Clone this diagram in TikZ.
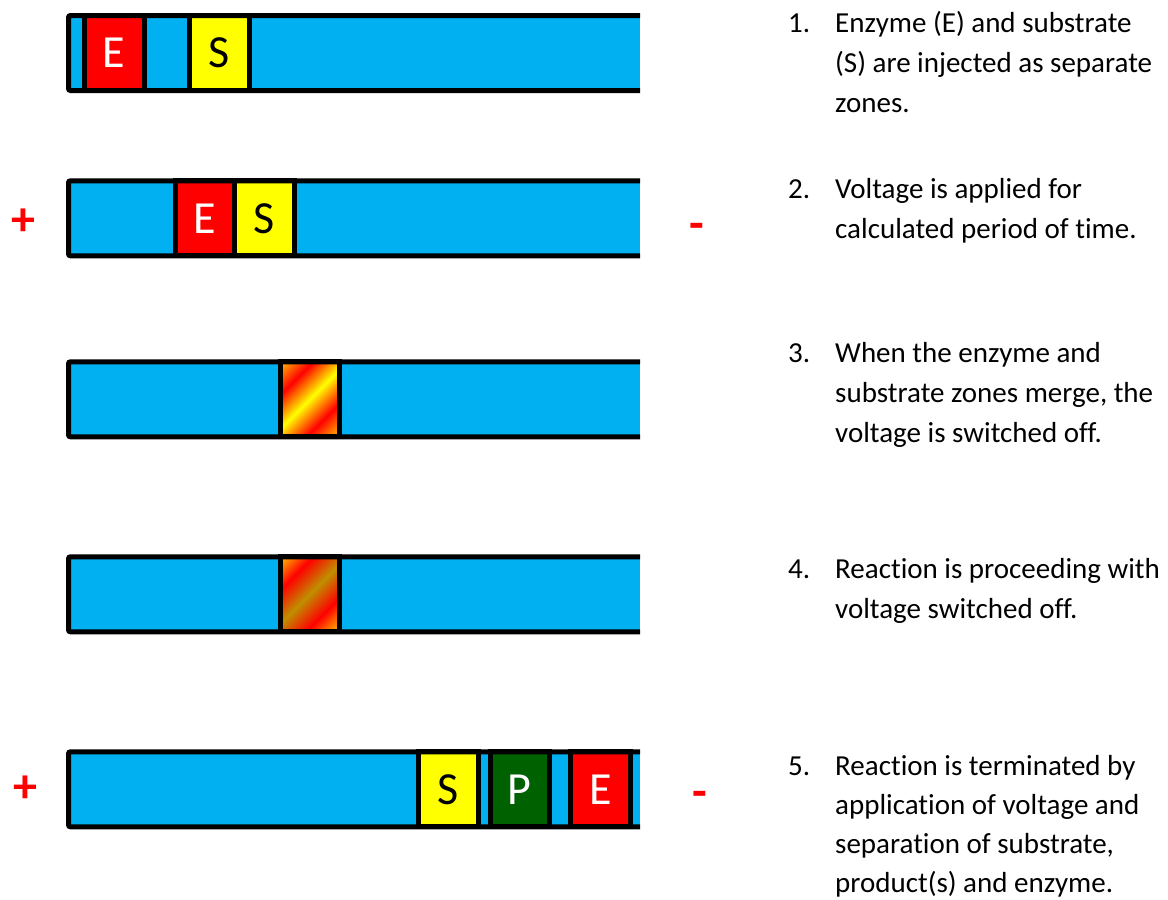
\documentclass[tikz,border=0pt]{standalone}
\usepackage{fontspec}
\setmainfont[Ligatures=NoCommon]{Carlito}
\definecolor{tubeblue}{HTML}{00B0F0}
\definecolor{zred}{HTML}{FF0000}
\definecolor{zyellow}{HTML}{FFFF00}
\definecolor{zgreen}{HTML}{006100}
\definecolor{zorange}{HTML}{FFB400}
\definecolor{zgold}{HTML}{BF8F00}
\definecolor{signred}{HTML}{FF0000}
\pgfdeclarehorizontalshading{mixA}{100bp}{color(0bp)=(zorange); color(16bp)=(zorange); color(32bp)=(zred); color(50bp)=(zyellow); color(68bp)=(zred); color(84bp)=(zorange); color(100bp)=(zorange)}
\pgfdeclarehorizontalshading{mixB}{100bp}{color(0bp)=(zorange); color(16bp)=(zorange); color(32bp)=(zred); color(50bp)=(zgold); color(68bp)=(zred); color(84bp)=(zorange); color(100bp)=(zorange)}
\newcommand\drawtubefill[1]{\fill[tubeblue] (68.5,#1) rectangle (640,#1+75);}
\newcommand\drawtubeline[1]{\draw[tubeline] (640,#1) -- (68.5,#1) -- (68.5,#1+75) -- (640,#1+75);}
\begin{document}
\begin{tikzpicture}[x=1pt,y=-1pt,
  tubeline/.style={draw=black,line width=5pt,rounded corners=2pt},
  zone/.style={draw=black,line width=5pt,inner sep=0pt,minimum height=75pt,font=\fontsize{46}{46}\selectfont},
  sign/.style={text=signred,inner sep=0pt,font=\fontsize{48}{48}\selectfont\bfseries},
  num/.style={anchor=base west,inner sep=0pt,font=\fontsize{29}{40}\selectfont},
  txt/.style={anchor=base west,inner sep=0pt,font=\fontsize{29}{40}\selectfont}]
\useasboundingbox (0,0) rectangle (1168,900);
% tube 1
\drawtubefill{15.5}
\node[zone,fill=zred,text=white,minimum width=60pt] (e1) at (114,53) {E};
\node[zone,fill=zyellow,text=black,minimum width=60pt] (s1) at (219,53) {S};
\drawtubeline{15.5}
% tube 2
\drawtubefill{180.8}
\node[zone,fill=zred,text=white,minimum width=59pt] (e2) at (204.5,218.3) {E};
\node[zone,fill=zyellow,text=black,minimum width=60pt] (s2) at (264,218.3) {S};
\drawtubeline{180.8}
% tube 3
\drawtubefill{361.8}
\node[zone,shade,shading=mixA,shading angle=-45,minimum width=59pt] (m3) at (309.5,399.3) {};
\drawtubeline{361.8}
% tube 4
\drawtubefill{556.8}
\node[zone,shade,shading=mixB,shading angle=-45,minimum width=59pt] (m4) at (309.5,594.3) {};
\drawtubeline{556.8}
% tube 5
\drawtubefill{751.8}
\node[zone,fill=zyellow,text=black,minimum width=60pt] (s5) at (448.5,789.3) {S};
\node[zone,fill=zgreen,text=white,minimum width=59pt] (p5) at (519.5,789.3) {P};
\node[zone,fill=zred,text=white,minimum width=59.3pt] (e5) at (600.35,789.3) {E};
\drawtubeline{751.8}
% signs
\node[sign] (plus2) at (23,222) {+};
\node[sign] (minus2) at (697,231) {-};
\node[sign] (plus5) at (25,789) {+};
\node[sign] (minus5) at (700,799) {-};
% texts
\node[num] (n1) at (788,32) {1.};
\node[txt] (t1a) at (835,32) {Enzyme (E) and substrate};
\node[txt] (t1b) at (835,72) {(S) are injected as separate};
\node[txt] (t1c) at (835,112) {zones.};
\node[num] (n2) at (788,198) {2.};
\node[txt] (t2a) at (835,198) {Voltage is applied for};
\node[txt] (t2b) at (835,238) {calculated period of time.};
\node[num] (n3) at (788,362) {3.};
\node[txt] (t3a) at (835,362) {When the enzyme and};
\node[txt] (t3b) at (835,402) {substrate zones merge, the};
\node[txt] (t3c) at (835,442) {voltage is switched off.};
\node[num] (n4) at (788,578) {4.};
\node[txt] (t4a) at (835,578) {Reaction is proceeding with};
\node[txt] (t4b) at (835,618) {voltage switched off.};
\node[num] (n5) at (788,775) {5.};
\node[txt] (t5a) at (835,775) {Reaction is terminated by};
\node[txt] (t5b) at (835,814) {application of voltage and};
\node[txt] (t5c) at (835,853) {separation of substrate,};
\node[txt] (t5d) at (835,892) {product(s) and enzyme.};
\end{tikzpicture}
\end{document}
